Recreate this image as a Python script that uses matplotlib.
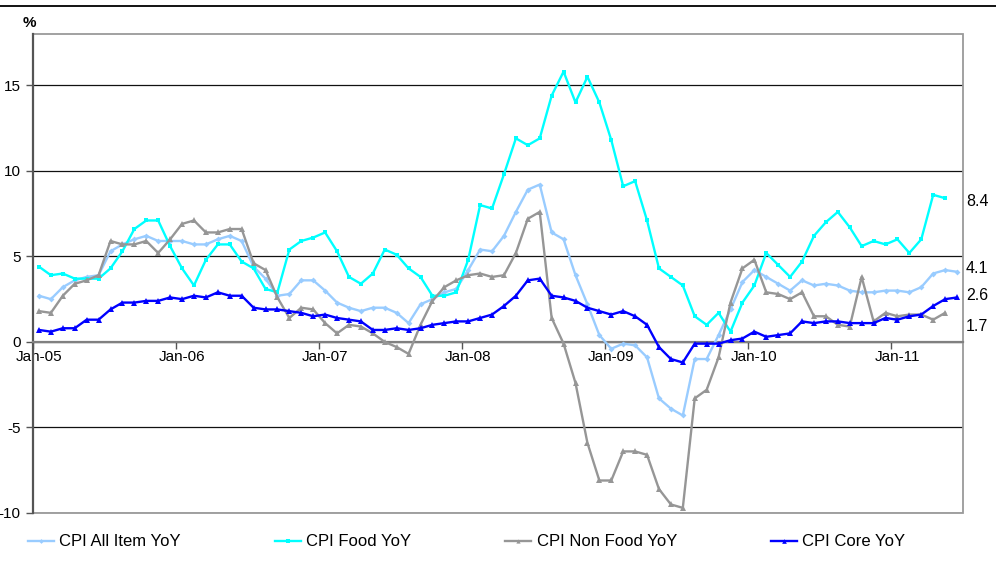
import numpy as np
import pandas as pd
import matplotlib
matplotlib.use("Agg")
import matplotlib.pyplot as plt
from matplotlib.lines import Line2D
from matplotlib.patches import Rectangle

plt.rcParams["font.family"] = ["Liberation Sans", "DejaVu Sans"]
plt.rcParams["axes.unicode_minus"] = False

# monthly, Jan-05 .. Jun-11
months = pd.date_range("2005-01-01", periods=78, freq="MS")

cpi_all = [2.7, 2.5, 3.2, 3.6, 3.8, 3.9, 5.3, 5.7, 6.0, 6.2, 5.9, 5.9,
           5.9, 5.7, 5.7, 6.0, 6.2, 5.9, 4.4, 3.7, 2.7, 2.8, 3.6, 3.6,
           3.0, 2.3, 2.0, 1.8, 2.0, 2.0, 1.7, 1.1, 2.2, 2.5, 2.9, 3.1,
           4.2, 5.4, 5.3, 6.2, 7.6, 8.9, 9.2, 6.4, 6.0, 3.9, 2.2, 0.4,
           -0.4, -0.1, -0.2, -0.9, -3.3, -3.9, -4.3, -1.0, -1.0, 0.4, 1.9, 3.5,
           4.2, 3.8, 3.4, 3.0, 3.6, 3.3, 3.4, 3.3, 3.0, 2.9, 2.9, 3.0,
           3.0, 2.9, 3.2, 4.0, 4.2, 4.1]
cpi_food = [4.4, 3.9, 4.0, 3.7, 3.7, 3.7, 4.3, 5.3, 6.6, 7.1, 7.1, 5.6,
            4.3, 3.3, 4.8, 5.7, 5.7, 4.7, 4.3, 3.1, 2.9, 5.4, 5.9, 6.1,
            6.4, 5.3, 3.8, 3.4, 4.0, 5.4, 5.1, 4.3, 3.8, 2.7, 2.7, 2.9,
            4.8, 8.0, 7.8, 9.8, 11.9, 11.5, 11.9, 14.4, 15.8, 14.0, 15.5, 14.0,
            11.8, 9.1, 9.4, 7.1, 4.3, 3.8, 3.3, 1.5, 1.0, 1.7, 0.6, 2.3,
            3.3, 5.2, 4.5, 3.8, 4.7, 6.2, 7.0, 7.6, 6.7, 5.6, 5.9, 5.7,
            6.0, 5.2, 6.0, 8.6, 8.4]
cpi_nonfood = [1.8, 1.7, 2.7, 3.4, 3.6, 3.9, 5.9, 5.7, 5.7, 5.9, 5.2, 6.0,
               6.9, 7.1, 6.4, 6.4, 6.6, 6.6, 4.6, 4.2, 2.6, 1.4, 2.0, 1.9,
               1.1, 0.5, 1.0, 0.9, 0.5, 0.0, -0.3, -0.7, 1.0, 2.4, 3.2, 3.6,
               3.9, 4.0, 3.8, 3.9, 5.2, 7.2, 7.6, 1.4, -0.1, -2.4, -5.9, -8.1,
               -8.1, -6.4, -6.4, -6.6, -8.6, -9.5, -9.7, -3.3, -2.8, -0.9, 2.3, 4.3,
               4.8, 2.9, 2.8, 2.5, 2.9, 1.5, 1.5, 1.0, 0.9, 3.8, 1.2, 1.7,
               1.5, 1.6, 1.6, 1.3, 1.7]
cpi_core = [0.7, 0.6, 0.8, 0.8, 1.3, 1.3, 1.9, 2.3, 2.3, 2.4, 2.4, 2.6,
            2.5, 2.7, 2.6, 2.9, 2.7, 2.7, 2.0, 1.9, 1.9, 1.8, 1.7, 1.5,
            1.6, 1.4, 1.3, 1.2, 0.7, 0.7, 0.8, 0.7, 0.8, 1.0, 1.1, 1.2,
            1.2, 1.4, 1.6, 2.1, 2.7, 3.6, 3.7, 2.7, 2.6, 2.4, 2.0, 1.8,
            1.6, 1.8, 1.5, 1.0, -0.3, -1.0, -1.2, -0.1, -0.1, -0.1, 0.1, 0.2,
            0.6, 0.3, 0.4, 0.5, 1.2, 1.1, 1.2, 1.2, 1.1, 1.1, 1.1, 1.4,
            1.3, 1.5, 1.6, 2.1, 2.5, 2.6]

SERIES = [
    ("CPI All Item YoY", cpi_all, "#99ccff", "D", 3.0),
    ("CPI Food YoY", cpi_food, "#00ffff", "s", 3.2),
    ("CPI Non Food YoY", cpi_nonfood, "#969696", "^", 3.8),
    ("CPI Core YoY", cpi_core, "#0000ff", "^", 4.2),
]

fig = plt.figure(figsize=(9.96, 5.64), dpi=100)
ax = fig.add_axes([33 / 996, 1 - 513 / 564, 930 / 996, 479 / 564])

handles = []
for label, vals, color, marker, ms in SERIES:
    x = np.arange(len(vals))
    h, = ax.plot(x, vals, color=color, lw=1.7, marker=marker, ms=ms,
                 markeredgewidth=0, label=label, zorder=3)
    handles.append(h)

ax.set_xlim(-0.5, len(months) - 0.5)
ax.set_ylim(-10, 18)

# category axis crossing at zero, ticks between categories
jan_idx = [i for i, m in enumerate(months) if m.month == 1]
ax.set_xticks([i - 0.5 for i in jan_idx])
ax.set_xticklabels([])
ax.set_xticks(jan_idx, minor=True)
ax.set_xticklabels([months[i].strftime("%b-%y") for i in jan_idx], minor=True)
ax.tick_params(axis="x", which="major", length=5, width=1, color="#555555",
               direction="out")
ax.tick_params(axis="x", which="minor", length=0, pad=6, labelsize=11)

ax.set_yticks([-10, -5, 0, 5, 10, 15])
ax.tick_params(axis="y", length=5, width=1, color="#555555", pad=4,
               labelsize=11)

ax.spines["bottom"].set_position(("data", 0))
ax.spines["bottom"].set_color("#808080")
ax.spines["bottom"].set_linewidth(1.6)
ax.spines["left"].set_color("#555555")
ax.spines["left"].set_linewidth(1.6)
ax.spines["top"].set_visible(False)
ax.spines["right"].set_visible(False)
ax.add_patch(Rectangle((0, 0), 1, 1, transform=ax.transAxes, fill=False,
                       edgecolor="#9a9a9a", lw=1.3, zorder=1, clip_on=False))

ax.yaxis.grid(True, color="#111111", lw=0.9)
ax.set_axisbelow(True)

# end-of-series value labels
ends = [(cpi_food, -0.2), (cpi_all, 0.2), (cpi_core, 0.1), (cpi_nonfood, -0.8)]
for vals, dy in ends:
    ax.text(1.003, vals[-1] + dy, f"{vals[-1]:.1f}",
            transform=ax.get_yaxis_transform(), ha="left", va="center",
            fontsize=11.5)

fig.text(29 / 996, 1 - 23 / 564, "%", fontsize=11, fontweight="bold",
         ha="center", va="center")

# separator line at the very top
fig.add_artist(Line2D([0, 1], [1 - 6 / 564] * 2, transform=fig.transFigure,
                      color="black", lw=1.3))

fig.legend(handles=handles, loc="center left",
           bbox_to_anchor=(28 / 996, 1 - 542 / 564), ncol=4, frameon=False,
           fontsize=12, borderpad=0, borderaxespad=0, handlelength=1.55,
           handletextpad=0.32, columnspacing=5.65, markerscale=0.8)

fig.savefig("out.png", dpi=100)
